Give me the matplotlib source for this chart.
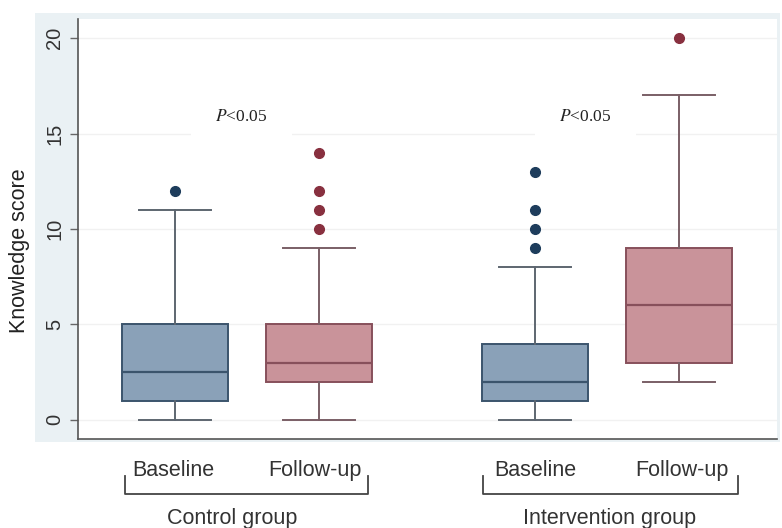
import matplotlib
matplotlib.use("Agg")
import matplotlib.pyplot as plt

# ---- data ----
labels = ["Baseline", "Follow-up", "Baseline", "Follow-up"]
groups = ["Control group", "Intervention group"]
positions = [1.0, 2.0, 3.5, 4.5]
whislo = [0, 0, 0, 2]
q1 = [1, 2, 1, 3]
med = [2.5, 3, 2, 6]
q3 = [5, 5, 4, 9]
whishi = [11, 9, 8, 17]
fliers = [[12], [10, 11, 12, 14], [9, 10, 11, 13], [20]]
yticks = [0, 5, 10, 15, 20]
p_text = ["$\\it{P}$<0.05", "$\\it{P}$<0.05"]

plt.rcParams['font.family'] = ['Liberation Sans', 'DejaVu Sans']
plt.rcParams['mathtext.fontset'] = 'stix'

fig = plt.figure(figsize=(7.82, 5.28), dpi=100)
bg = fig.add_axes([0.0448, 0.1629, 0.9527, 0.8125], zorder=-5)
bg.set_facecolor("#eaf1f4")
bg.set_xticks([]); bg.set_yticks([])
for s in bg.spines.values():
    s.set_visible(False)

ax = fig.add_axes([0.0997, 0.1686, 0.8939, 0.7955], zorder=1)
ax.set_facecolor("white")

blue_fill, blue_edge, blue_dot = "#8aa1b8", "#3b546c", "#1e3d5c"
red_fill, red_edge, red_dot = "#c9939a", "#87505b", "#88303f"
fills = [blue_fill, red_fill, blue_fill, red_fill]
edges = [blue_edge, red_edge, blue_edge, red_edge]
dots = [blue_dot, red_dot, blue_dot, red_dot]

for i in range(4):
    st = [dict(whislo=whislo[i], q1=q1[i], med=med[i], q3=q3[i], whishi=whishi[i], fliers=fliers[i])]
    wc = "#5d6670" if i % 2 == 0 else "#7a5f66"
    ax.bxp(st, positions=[positions[i]], widths=0.74, capwidths=0.5, patch_artist=True,
           boxprops=dict(facecolor=fills[i], edgecolor=edges[i], linewidth=1.4),
           medianprops=dict(color=edges[i], linewidth=1.6),
           whiskerprops=dict(color=wc, linewidth=1.4),
           capprops=dict(color=wc, linewidth=1.4),
           flierprops=dict(marker="o", markerfacecolor=dots[i], markeredgecolor=dots[i], markersize=7),
           manage_ticks=False, zorder=3)

ax.set_xlim(0.326, 5.18)
ax.set_ylim(-1, 21)
ax.set_yticks(yticks)
ax.set_yticklabels([str(t) for t in yticks], rotation=90, va="center", fontsize=14.5, color="#333333")
ax.tick_params(axis="y", length=6, width=1, color="#666666", pad=4)
ax.set_xticks([])
ax.grid(axis="y", color="#f1f1f1", linewidth=1)
ax.set_axisbelow(True)
for s in ["top", "right"]:
    ax.spines[s].set_visible(False)
for s in ["left", "bottom"]:
    ax.spines[s].set_color("#555555")
    ax.spines[s].set_linewidth(1.2)

ax.set_ylabel("Knowledge score", fontsize=15.5, color="#222222")
ax.yaxis.set_label_coords(-0.068, 0.448)

# P-value annotations
for xp, t in zip([1.46, 3.85], p_text):
    ax.text(xp, 15.85, t, ha="center", va="center", fontsize=12.5, color="#222222",
            family=['Liberation Serif'], zorder=2,
            bbox=dict(boxstyle="square,pad=1.4", facecolor="white", edgecolor="none"))

# x category labels and brackets
tr = ax.get_xaxis_transform()
label_x = [0.99, 1.97, 3.5, 4.52]
for xl, lab in zip(label_x, labels):
    ax.text(xl, -0.076, lab, transform=tr, ha="center", va="center", fontsize=15.5,
            color="#333333", clip_on=False)
brackets = [(0.653, 2.34), (3.139, 4.91)]
group_x = [1.4, 4.02]
for (x0, x1), gx, g in zip(brackets, group_x, groups):
    ax.plot([x0, x0, x1, x1], [-0.088, -0.131, -0.131, -0.088], transform=tr,
            color="#444444", linewidth=1.3, clip_on=False)
    ax.text(gx, -0.19, g, transform=tr, ha="center", va="center", fontsize=15.5,
            color="#333333", clip_on=False)

fig.savefig("out.png", dpi=100)
